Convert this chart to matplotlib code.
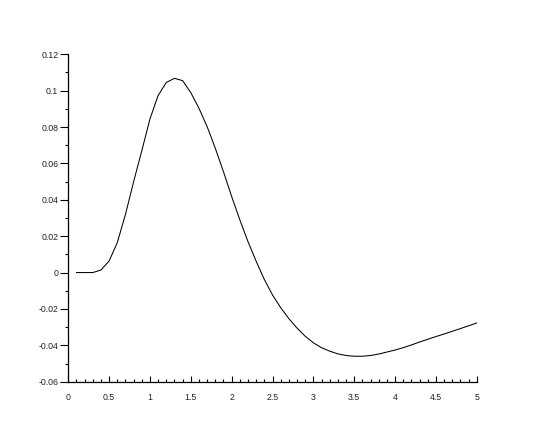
import matplotlib
matplotlib.use("Agg")
import matplotlib.pyplot as plt
from matplotlib.ticker import MultipleLocator, FuncFormatter

x_values = [0.1, 0.2, 0.3, 0.4, 0.5, 0.6, 0.7, 0.8, 0.9, 1.0,
            1.1, 1.2, 1.3, 1.4, 1.5, 1.6, 1.7, 1.8, 1.9, 2.0,
            2.1, 2.2, 2.3, 2.4, 2.5, 2.6, 2.7, 2.8, 2.9, 3.0,
            3.1, 3.2, 3.3, 3.4, 3.5, 3.6, 3.7, 3.8, 3.9, 4.0,
            4.1, 4.2, 4.3, 4.4, 4.5, 4.6, 4.7, 4.8, 4.9, 5.0]
y_values = [0.0, 0.0, 0.0, 0.0014, 0.0064, 0.0165, 0.032, 0.050, 0.067, 0.0845,
            0.0974, 0.1045, 0.1068, 0.1055, 0.0989, 0.0903, 0.0802, 0.0683, 0.0554, 0.0418,
            0.0290, 0.0170, 0.0062, -0.0038, -0.0123, -0.0193, -0.0253, -0.0305, -0.0350, -0.0386,
            -0.0413, -0.0432, -0.0447, -0.0456, -0.0460, -0.0460, -0.0456, -0.0448, -0.0437, -0.0426,
            -0.0413, -0.0398, -0.0382, -0.0367, -0.0352, -0.0338, -0.0323, -0.0308, -0.0293, -0.0277]

x_ticks = [0, 0.5, 1, 1.5, 2, 2.5, 3, 3.5, 4, 4.5, 5]
y_ticks = [-0.06, -0.04, -0.02, 0, 0.02, 0.04, 0.06, 0.08, 0.1, 0.12]

plt.rcParams['font.family'] = ['Liberation Sans', 'DejaVu Sans']

fig = plt.figure(figsize=(5.45, 4.36), dpi=100)
ax = fig.add_axes([68.3 / 545, 1 - 381.7 / 436, 408.4 / 545, 327.4 / 436])
ax.plot(x_values, y_values, color='black', linewidth=0.75)

ax.set_xlim(0, 5)
ax.set_ylim(-0.06, 0.12)
ax.set_xticks(x_ticks)
ax.set_yticks(y_ticks)
ax.xaxis.set_minor_locator(MultipleLocator(0.1))
ax.yaxis.set_minor_locator(MultipleLocator(0.01))

fmt = FuncFormatter(lambda v, p: ('%g' % round(v, 4)))
ax.xaxis.set_major_formatter(fmt)
ax.yaxis.set_major_formatter(fmt)

for s in ['top', 'right']:
    ax.spines[s].set_visible(False)
for s in ['left', 'bottom']:
    ax.spines[s].set_linewidth(0.9)

ax.tick_params(axis='x', which='major', direction='in', length=4, width=0.8,
               labelsize=6.3, pad=8, labelcolor='#222222')
ax.tick_params(axis='x', which='minor', direction='in', length=2, width=0.8)
ax.tick_params(axis='y', which='major', direction='out', length=5.7, width=0.8,
               labelsize=6.3, pad=1.5, labelcolor='#222222')
ax.tick_params(axis='y', which='minor', direction='out', length=2.5, width=0.8)

fig.savefig('out.png', dpi=100)
